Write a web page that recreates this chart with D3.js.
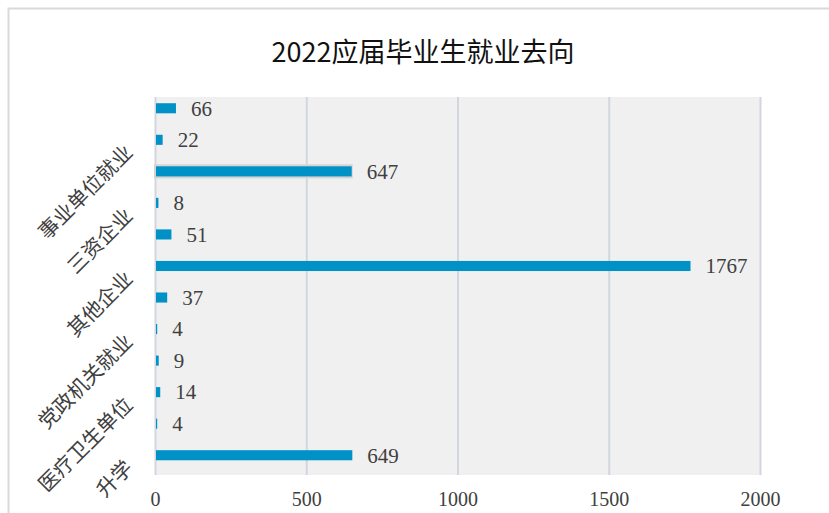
<!DOCTYPE html>
<html>
<head>
<meta charset="utf-8">
<script src="https://cdn.jsdelivr.net/npm/d3@7"></script>
<style>
  html, body { margin: 0; padding: 0; background: #fff; }
  svg { display: block; }
</style>
</head>
<body>
<svg id="chart" width="829" height="513"></svg>
<script>
// ---- data ----
const title = "2022应届毕业生就业去向";
const categories = ["", "事业单位就业", "", "三资企业", "", "其他企业", "", "党政机关就业", "", "医疗卫生单位", "", "升学"];
const values = [66, 22, 647, 8, 51, 1767, 37, 4, 9, 14, 4, 649];
const xTicks = [0, 500, 1000, 1500, 2000];
const selectedIndex = 2;

// ---- layout ----
const W = 829, H = 513;
const plot = { left: 155, right: 760, top: 97, bottom: 475 };
const barColor = "#0091c6";

const svg = d3.select("#chart");

// outer chart border
svg.append("rect")
  .attr("x", 8.5).attr("y", 8.5)
  .attr("width", W + 50).attr("height", H + 50)
  .attr("fill", "#fff")
  .attr("stroke", "#d9d9d9").attr("stroke-width", 2);

// title
svg.append("text")
  .attr("x", 423).attr("y", 62)
  .attr("text-anchor", "middle")
  .attr("font-family", "'Noto Sans CJK SC', 'Noto Sans', sans-serif")
  .attr("font-size", 27)
  .attr("fill", "#111")
  .text(title);

const x = d3.scaleLinear().domain([0, 2000]).range([plot.left, plot.right]);
const y = d3.scaleBand().domain(d3.range(values.length))
  .range([92.5, 471]).paddingInner(0.68).paddingOuter(0.34);

// plot background
svg.append("rect")
  .attr("x", plot.left).attr("y", plot.top)
  .attr("width", plot.right - plot.left).attr("height", plot.bottom - plot.top)
  .attr("fill", "#f0f0f0");

// gridlines
const grid = svg.append("g")
  .attr("transform", `translate(0,${plot.bottom})`)
  .call(d3.axisBottom(x).tickValues(xTicks).tickSize(-(plot.bottom - plot.top)).tickFormat(""));
grid.select(".domain").remove();
grid.selectAll("line").attr("stroke", "#d2d6df").attr("stroke-width", 2);

// axis labels
const xa = svg.append("g")
  .attr("transform", `translate(0,${plot.bottom})`)
  .call(d3.axisBottom(x).tickValues(xTicks).tickFormat(d3.format("d")).tickSize(0).tickPadding(17));
xa.select(".domain").remove();
xa.selectAll("text")
  .attr("font-family", "'Liberation Serif', 'DejaVu Serif', serif")
  .attr("font-size", 20)
  .attr("fill", "#404040");

// highlight outline of selected bar
svg.append("rect")
  .attr("x", x(0) - 1)
  .attr("y", y(selectedIndex) - 2)
  .attr("width", x(values[selectedIndex]) - x(0) + 3)
  .attr("height", y.bandwidth() + 4)
  .attr("fill", "#d4d4d4");

// bars
svg.append("g").selectAll("rect")
  .data(values)
  .join("rect")
  .attr("x", x(0) + 1)
  .attr("y", (d, i) => y(i))
  .attr("width", d => Math.max(0, x(d) - x(0)))
  .attr("height", y.bandwidth())
  .attr("fill", barColor);

// value labels
svg.append("g").selectAll("text")
  .data(values)
  .join("text")
  .attr("x", d => x(d) + 16)
  .attr("y", (d, i) => y(i) + y.bandwidth() / 2)
  .attr("dy", "0.35em")
  .attr("font-family", "'Liberation Serif', 'DejaVu Serif', serif")
  .attr("font-size", 21)
  .attr("fill", "#404040")
  .text(d => d);

// category labels (rotated)
svg.append("g").selectAll("text")
  .data(categories)
  .join("text")
  .attr("transform", (d, i) => `translate(${plot.left - 21},${y(i) + y.bandwidth() / 2 + 14}) rotate(-45)`)
  .attr("text-anchor", "end")
  .attr("font-family", "'Noto Sans CJK SC', sans-serif")
  .attr("font-size", 20.5)
  .attr("fill", "#404040")
  .text(d => d);
</script>
</body>
</html>
